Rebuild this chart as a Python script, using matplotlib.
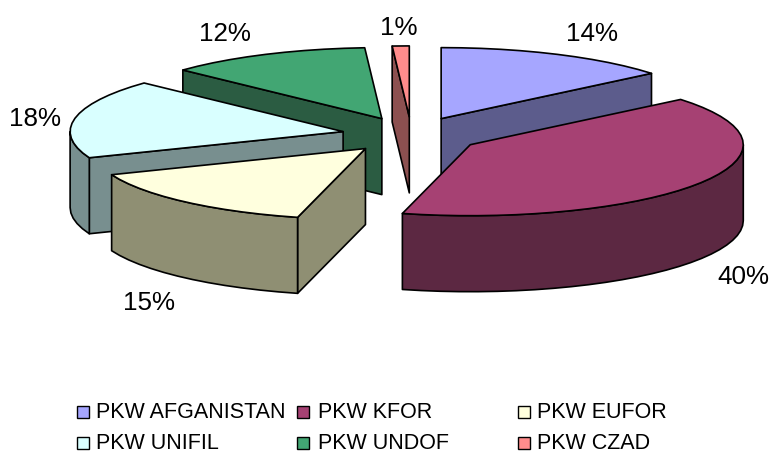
import numpy as np
import matplotlib
matplotlib.use('Agg')
import matplotlib.pyplot as plt
from matplotlib.patches import Polygon, Rectangle

plt.rcParams['font.family'] = ['Liberation Sans', 'DejaVu Sans']

# data
names = ['PKW AFGANISTAN', 'PKW KFOR', 'PKW EUFOR', 'PKW UNIFIL', 'PKW UNDOF', 'PKW CZAD']
values = [14, 40, 15, 18, 12, 1]
top_colors = ['#A6A6FF', '#A64173', '#FFFFDE', '#D9FFFF', '#42A673', '#FF8C8C']
side_colors = ['#5C5C8C', '#5C2842', '#8F8F73', '#788F8F', '#2B5C42', '#8C5050']

# layout, in pixels
cx, cy = 411.5, 135
rx, ry = 273, 71
depth = 76
explode = 0.255
label_pos = [(592, 34), (743, 277), (149, 303), (35, 119), (225, 34), (399, 28)]
marker_x = [77, 297, 518, 77, 297, 518]
text_x = [96, 318, 537, 96, 318, 537]
row_y = [418, 418, 418, 449, 449, 449]

fig = plt.figure(figsize=(7.71, 4.54), dpi=100)
ax = fig.add_axes([0, 0, 1, 1])
ax.set_xlim(0, 771)
ax.set_ylim(454, 0)
ax.axis('off')


def pt(ang, ox, oy, r=1.0):
    # angle in degrees, clockwise from the top
    a = np.radians(ang)
    return ox + r * rx * np.sin(a), oy - r * ry * np.cos(a)


def rim(a0, a1, ox, oy):
    n = max(2, int((a1 - a0) / 4) + 1)
    angs = np.linspace(a0, a1, n)
    return [pt(a, ox, oy) for a in angs]


def drop(points):
    return [(x, y + depth) for x, y in points]


def face(points, color, z):
    ax.add_patch(Polygon(points, closed=True, fc=color, ec='black', lw=1.2, joinstyle='round', zorder=z))


edges = np.cumsum([0] + values) * 3.6
slices = []
for i in range(len(values)):
    a0, a1 = edges[i], edges[i + 1]
    mid = (a0 + a1) / 2
    slices.append((i, a0, a1, pt(mid, cx, cy, explode)))

# back to front
draw_order = [5, 4, 0, 3, 1, 2]
z = 1
for i in draw_order:
    _, a0, a1, apex = slices[i]
    ox, oy = apex
    m = pt((a0 + a1) / 2, ox, oy)
    w = (m[0] - ox, m[1] - oy)
    for a in (a0, a1):
        r = pt(a, ox, oy)
        d = (r[0] - ox, r[1] - oy)
        # radial wall is seen only when the top face lies above its edge
        if d[0] * w[1] - d[1] * w[0] != 0 and d[0] * (d[0] * w[1] - d[1] * w[0]) < 0:
            face([apex, r, (r[0], r[1] + depth), (ox, oy + depth)], side_colors[i], z)
            z += 1
    lo, hi = max(a0, 90), min(a1, 270)
    if hi > lo:
        arc = rim(lo, hi, ox, oy)
        face(arc + drop(arc)[::-1], side_colors[i], z)
        z += 1
    face([apex] + rim(a0, a1, ox, oy), top_colors[i], z)
    z += 1

for v, (x, y) in zip(values, label_pos):
    ax.text(x, y, f'{v}%', fontsize=18.7, ha='center', va='center', color='black', zorder=50)

for name, col, mx, tx, y in zip(names, top_colors, marker_x, text_x, row_y):
    ax.add_patch(Rectangle((mx, y - 12), 12, 12, fc=col, ec='black', lw=1.0, zorder=50))
    ax.text(tx, y, name, fontsize=15.5, ha='left', va='baseline', color='black', zorder=50)

fig.savefig('out.png', dpi=100)
